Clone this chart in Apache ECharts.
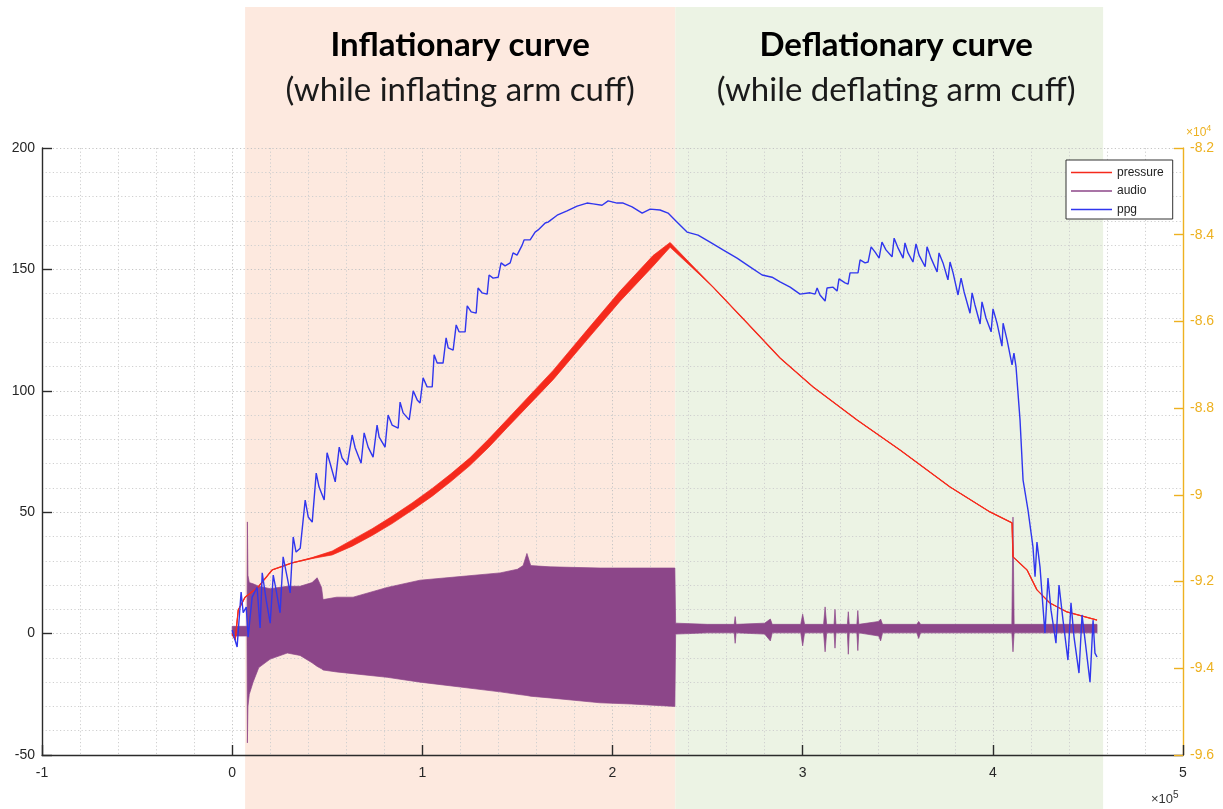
<!DOCTYPE html>
<html>
<head>
<meta charset="utf-8">
<script src="https://cdn.jsdelivr.net/npm/echarts@6/dist/echarts.min.js"></script>
<style>
  html, body { margin: 0; padding: 0; background: #ffffff; }
  #chart { width: 1223px; height: 809px; }
</style>
</head>
<body>
<div id="chart"></div>
<script>
// Sample index is given in units of 1e5 samples, ppg in units of 1e4.

// Cuff pressure (left axis) and the half-height of its ripple band
const pressureX = [0, 0.016, 0.032, 0.068, 0.137, 0.21, 0.315, 0.42, 0.526, 0.631, 0.736, 0.841, 0.946, 1.052, 1.15, 1.25, 1.35, 1.446, 1.688, 1.866, 2.04, 2.213, 2.303, 2.529, 2.708, 2.881, 3.055, 3.286, 3.512, 3.775, 3.985, 4.101, 4.106, 4.18, 4.232, 4.3, 4.39, 4.548];
const pressureY = [0, -2.6, 9.7, 15, 19.2, 26.2, 29.1, 31.1, 33.2, 37.3, 41.8, 46.8, 52.3, 58.2, 64.2, 70.8, 78.5, 86.5, 106.5, 123, 139, 153.5, 160.1, 142.7, 127.9, 113.5, 101.6, 88, 75.6, 60.4, 50.1, 45.6, 31.6, 26.2, 18, 12.6, 8.9, 5.6];
const pressureRipple = [0, 0, 0, 0, 0, 0, 0, 0.2, 0.8, 1.3, 1.4, 1.5, 1.5, 1.6, 1.6, 1.6, 1.7, 1.7, 1.9, 2.0, 2.1, 2.2, 1.0, 0, 0, 0, 0, 0, 0, 0, 0, 0, 0, 0, 0, 0, 0, 0];

// Microphone signal envelope (left axis)
const audioX = [0, 0.07, 0.078, 0.08, 0.083, 0.09, 0.11, 0.14, 0.2, 0.29, 0.357, 0.42, 0.447, 0.47, 0.478, 0.55, 0.636, 0.815, 0.988, 1.2, 1.409, 1.5, 1.53, 1.55, 1.57, 1.672, 1.935, 2.1, 2.328,
  2.332, 2.5, 2.64, 2.645, 2.65, 2.8, 2.83, 2.84, 2.99, 3.0, 3.01, 3.11, 3.118, 3.126, 3.165, 3.17, 3.175, 3.235, 3.24, 3.245, 3.285, 3.29, 3.295, 3.4, 3.41, 3.42, 3.6, 3.61, 3.62, 4.1, 4.106, 4.112, 4.548];
const audioHigh = [3, 3, 3, 46, 24, 21, 20.5, 19.5, 18.5, 19.5, 19.5, 21, 23, 19, 14, 15, 15, 19, 22, 23.5, 25, 26.5, 28, 33, 28, 27.5, 27, 27, 27,
  4.3, 3.8, 3.8, 7, 3.8, 4.3, 6, 3.8, 3.8, 8, 3.8, 3.8, 11, 3.8, 3.8, 10, 3.8, 3.8, 9, 3.8, 3.8, 9.5, 3.8, 5, 6, 3.8, 3.8, 5, 3.8, 3.8, 48, 3.8, 3.8];
const audioLow = [-1, -1, -1, -45, -30, -25, -20, -14, -10.5, -8, -9, -12, -13.5, -14.5, -15, -15.8, -16.5, -18, -20, -22, -24, -25, -25.3, -25.5, -25.8, -26.5, -28.5, -29, -30,
  -0.2, 0.3, 0.3, -4, 0.3, -0.2, -3, 0.3, 0.3, -5, 0.3, 0.3, -7.5, 0.3, 0.3, -6, 0.3, 0.3, -8.5, 0.3, 0.3, -7, 0.3, -1, -3, 0.3, 0.3, -2, 0.3, 0.3, -7.5, 0.3, 0.3];

// Photoplethysmogram (right axis)
const ppgX = [0, 0.026, 0.047, 0.058, 0.074, 0.084, 0.105, 0.131, 0.147, 0.158, 0.179, 0.2, 0.216, 0.231, 0.252, 0.268, 0.289, 0.305, 0.321, 0.336, 0.358, 0.384, 0.4, 0.421, 0.442, 0.457, 0.484, 0.499, 0.515, 0.542, 0.563, 0.578, 0.605, 0.631, 0.647, 0.678, 0.694, 0.715, 0.741, 0.762, 0.773, 0.804, 0.82, 0.841, 0.873, 0.883, 0.899, 0.931, 0.952, 0.973, 0.988,
  1.004, 1.025, 1.052, 1.062, 1.078, 1.109, 1.125, 1.136, 1.162, 1.178, 1.193, 1.225, 1.236, 1.257, 1.283, 1.293, 1.314, 1.341, 1.351, 1.372, 1.399, 1.414, 1.435, 1.462, 1.477, 1.498, 1.525, 1.535, 1.567, 1.593, 1.609, 1.646, 1.661, 1.709, 1.761, 1.814, 1.866, 1.898, 1.945, 1.977, 2.024, 2.056, 2.103, 2.156, 2.198, 2.25, 2.292, 2.34, 2.392, 2.45,
  2.513, 2.581, 2.655, 2.723, 2.787, 2.839, 2.881, 2.934, 2.986, 3.039, 3.065, 3.076, 3.091, 3.118, 3.128, 3.16, 3.181, 3.191, 3.223, 3.239, 3.249, 3.276, 3.291, 3.302, 3.328, 3.344, 3.36, 3.381, 3.402, 3.417, 3.438, 3.47, 3.481, 3.502, 3.528, 3.538, 3.554, 3.58, 3.596, 3.612, 3.644, 3.654, 3.675, 3.707, 3.717, 3.738, 3.764, 3.775, 3.791, 3.817, 3.833, 3.849, 3.88, 3.891, 3.906, 3.933, 3.943, 3.964, 3.991, 4.001, 4.022, 4.048, 4.054, 4.075, 4.101, 4.111, 4.122,
  4.143, 4.159, 4.185, 4.211, 4.222, 4.232, 4.248, 4.274, 4.29, 4.306, 4.332, 4.348, 4.369, 4.395, 4.411, 4.427, 4.453, 4.469, 4.485, 4.511, 4.527, 4.537, 4.548];
const ppgY = [-9.312, -9.351, -9.224, -9.272, -9.259, -9.328, -9.236, -9.213, -9.307, -9.18, -9.243, -9.296, -9.185, -9.219, -9.272, -9.143, -9.189, -9.226, -9.097, -9.132, -9.123, -9.012, -9.051, -9.063, -8.95, -8.982, -9.012, -8.903, -8.927, -8.97, -8.89, -8.915, -8.931, -8.862, -8.892, -8.927, -8.857, -8.89, -8.913, -8.839, -8.867, -8.89, -8.816, -8.839, -8.846, -8.786, -8.811, -8.827, -8.76, -8.781, -8.788,
  -8.73, -8.751, -8.751, -8.677, -8.696, -8.696, -8.638, -8.661, -8.666, -8.608, -8.624, -8.624, -8.564, -8.578, -8.581, -8.523, -8.534, -8.537, -8.493, -8.5, -8.498, -8.465, -8.472, -8.465, -8.442, -8.447, -8.424, -8.412, -8.412, -8.394, -8.389, -8.373, -8.371, -8.355, -8.345, -8.334, -8.327, -8.329, -8.332, -8.322, -8.327, -8.327, -8.336, -8.35, -8.341, -8.343, -8.35, -8.371, -8.394, -8.401,
  -8.417, -8.435, -8.454, -8.474, -8.493, -8.498, -8.509, -8.521, -8.537, -8.534, -8.537, -8.523, -8.539, -8.553, -8.523, -8.521, -8.53, -8.502, -8.511, -8.514, -8.488, -8.488, -8.488, -8.458, -8.465, -8.463, -8.428, -8.44, -8.454, -8.417, -8.435, -8.451, -8.408, -8.431, -8.454, -8.419, -8.442, -8.463, -8.421, -8.447, -8.474, -8.428, -8.454, -8.486, -8.442, -8.465, -8.504, -8.463, -8.488, -8.539, -8.5, -8.532, -8.581, -8.534, -8.562, -8.606, -8.555, -8.592, -8.624, -8.571, -8.604, -8.657, -8.604, -8.643, -8.7, -8.673, -8.705,
  -8.827, -8.966, -9.035, -9.12, -9.189, -9.109, -9.166, -9.319, -9.192, -9.266, -9.342, -9.208, -9.289, -9.381, -9.249, -9.328, -9.411, -9.277, -9.335, -9.432, -9.289, -9.365, -9.374];

// Measurement phases (start, end) and their captions
const phaseNames = ['Inflationary curve', 'Deflationary curve'];
const phaseNotes = ['(while inflating arm cuff)', '(while deflating arm cuff)'];
const phaseStart = [0.068, 2.33];
const phaseEnd = [2.33, 4.58];
const phaseFill = ['#fde9df', '#ecf3e4'];

const seriesNames = ['pressure', 'audio', 'ppg'];
const seriesColors = ['#f52a1c', '#8c4689', '#3036ee'];

const AXIS_COLOR = '#2b2b2b';
const RIGHT_COLOR = '#edb120';
const GRID_DASH = [1.2, 2.4];
const LABEL_FONT = '"Liberation Sans", Arial, sans-serif';

function pairs(xs, ys) {
  return xs.map((x, i) => [x, ys[i]]);
}

// Filled envelope between a high and a low trace, drawn as a single polygon
function bandRenderer(xs, hi, lo) {
  return function (params, api) {
    if (params.dataIndex !== 0) return null;
    const pts = [];
    for (let i = 0; i < xs.length; i++) pts.push(api.coord([xs[i], hi[i]]));
    for (let i = xs.length - 1; i >= 0; i--) pts.push(api.coord([xs[i], lo[i]]));
    const c = api.visual('color');
    return {
      type: 'polygon',
      shape: { points: pts, smooth: 0 },
      style: { fill: c, stroke: c, lineWidth: 0.7, lineJoin: 'round' }
    };
  };
}

const pressureHigh = pressureY.map((v, i) => v + pressureRipple[i]);
const pressureLow = pressureY.map((v, i) => v - pressureRipple[i]);

const chart = echarts.init(document.getElementById('chart'), null, { renderer: 'canvas' });

const option = {
  backgroundColor: '#ffffff',
  animation: false,
  grid: { left: 42, right: 40, top: 148, bottom: 54, containLabel: false },
  legend: {
    orient: 'vertical',
    left: 1066,
    top: 160,
    padding: [6, 9, 3, 5],
    itemGap: 5.5,
    itemWidth: 41,
    itemHeight: 1.6,
    backgroundColor: '#ffffff',
    borderColor: '#333333',
    borderWidth: 1,
    borderRadius: 0,
    textStyle: { fontSize: 12, lineHeight: 13, color: '#222222', fontFamily: LABEL_FONT, padding: [0, 0, 0, 0] },
    data: seriesNames.map((n, i) => ({ name: n, icon: 'rect', itemStyle: { color: seriesColors[i] } })),
    z: 20
  },
  xAxis: {
    type: 'value',
    min: -1, max: 5, interval: 1,
    axisLine: { show: true, onZero: false, lineStyle: { color: AXIS_COLOR, width: 1.4 } },
    axisTick: { show: true, inside: true, length: 10, lineStyle: { color: AXIS_COLOR, width: 1.4 } },
    minorTick: { show: false, splitNumber: 5 },
    axisLabel: { color: '#262626', fontSize: 14, fontFamily: LABEL_FONT, margin: 11 },
    splitLine: { show: true, lineStyle: { color: '#c4c4c4', type: GRID_DASH, width: 1 } },
    minorSplitLine: { show: true, lineStyle: { color: '#cfcfcf', type: GRID_DASH, width: 1 } }
  },
  yAxis: [
    {
      type: 'value',
      position: 'left',
      min: -50, max: 200, interval: 50,
      axisLine: { show: true, onZero: false, lineStyle: { color: AXIS_COLOR, width: 1.4 } },
      axisTick: { show: true, inside: true, length: 10, lineStyle: { color: AXIS_COLOR, width: 1.4 } },
      minorTick: { show: false, splitNumber: 5 },
      axisLabel: { color: '#262626', fontSize: 14, fontFamily: LABEL_FONT, margin: 7 },
      splitLine: { show: true, lineStyle: { color: '#c4c4c4', type: GRID_DASH, width: 1 } },
      minorSplitLine: { show: true, lineStyle: { color: '#cfcfcf', type: GRID_DASH, width: 1 } }
    },
    {
      type: 'value',
      position: 'right',
      min: -9.6, max: -8.2, interval: 0.2,
      axisLine: { show: true, onZero: false, lineStyle: { color: RIGHT_COLOR, width: 1.4 } },
      axisTick: { show: true, inside: true, length: 9, lineStyle: { color: RIGHT_COLOR, width: 1.4 } },
      axisLabel: {
        color: RIGHT_COLOR, fontSize: 14, fontFamily: LABEL_FONT, margin: 7,
        formatter: v => String(Math.round(v * 10) / 10)
      },
      splitLine: { show: false }
    }
  ],
  series: [
    {
      name: 'audio',
      type: 'custom',
      coordinateSystem: 'cartesian2d',
      xAxisIndex: 0, yAxisIndex: 0,
      itemStyle: { color: seriesColors[1] },
      renderItem: bandRenderer(audioX, audioHigh, audioLow),
      data: [[audioX[0], audioHigh[0]]],
      encode: { x: 0, y: 1 },
      silent: true,
      z: 2
    },
    {
      name: 'pressure',
      type: 'custom',
      coordinateSystem: 'cartesian2d',
      xAxisIndex: 0, yAxisIndex: 0,
      itemStyle: { color: seriesColors[0] },
      renderItem: bandRenderer(pressureX, pressureHigh, pressureLow),
      data: [[pressureX[0], pressureY[0]]],
      encode: { x: 0, y: 1 },
      silent: true,
      z: 3
    },
    {
      name: 'pressure',
      type: 'line',
      xAxisIndex: 0, yAxisIndex: 0,
      data: pairs(pressureX, pressureY),
      showSymbol: false,
      lineStyle: { color: seriesColors[0], width: 1.3 },
      itemStyle: { color: seriesColors[0] },
      z: 3
    },
    {
      name: 'ppg',
      type: 'line',
      xAxisIndex: 0, yAxisIndex: 1,
      data: pairs(ppgX, ppgY),
      showSymbol: false,
      lineStyle: { color: seriesColors[2], width: 1.4 },
      itemStyle: { color: seriesColors[2] },
      z: 4
    }
  ]
};

chart.setOption(option);

// Phase backgrounds, captions and axis exponent labels, placed from data coordinates
function px(x) {
  return chart.convertToPixel({ xAxisIndex: 0 }, x);
}
const H = chart.getHeight();
const graphics = [];
phaseStart.forEach((s, i) => {
  const x0 = px(s), x1 = px(phaseEnd[i]);
  const cx = (x0 + x1) / 2 + (i === 1 ? 7 : 0);
  graphics.push({
    type: 'rect', z: -10, silent: true,
    shape: { x: x0, y: 7, width: x1 - x0, height: H - 7 },
    style: { fill: phaseFill[i] }
  });
  graphics.push({
    type: 'text', z: 10, silent: true,
    x: cx, y: 45,
    style: {
      text: phaseNames[i], fill: '#000000', align: 'center', verticalAlign: 'middle',
      font: 'bold 33px Lato, "Open Sans", sans-serif'
    }
  });
  graphics.push({
    type: 'text', z: 10, silent: true,
    x: cx, y: 90,
    style: {
      text: phaseNotes[i], fill: '#1a1a1a', align: 'center', verticalAlign: 'middle',
      font: '33px Lato, "Open Sans", sans-serif'
    }
  });
});
const xRight = px(5);
graphics.push({
  type: 'text', z: 10, silent: true,
  x: xRight - 32, y: 790,
  style: {
    text: '×10{s|5}', fill: '#333333', font: '13px ' + LABEL_FONT,
    rich: { s: { fontSize: 10, verticalAlign: 'top', padding: [0, 0, 8, 0], fill: '#333333' } }
  }
});
graphics.push({
  type: 'text', z: 10, silent: true,
  x: xRight + 3, y: 124,
  style: {
    text: '×10{s|4}', fill: RIGHT_COLOR, font: '12px ' + LABEL_FONT,
    rich: { s: { fontSize: 9, padding: [0, 0, 8, 0], fill: RIGHT_COLOR } }
  }
});
chart.setOption({ graphic: { elements: graphics } });
</script>
</body>
</html>
